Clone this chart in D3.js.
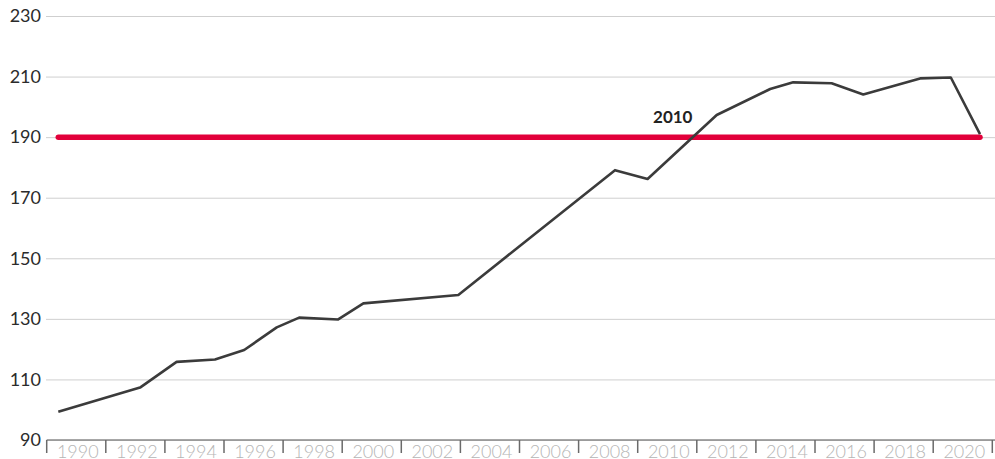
<!DOCTYPE html>
<html>
<head>
<meta charset="utf-8">
<script src="https://cdn.jsdelivr.net/npm/d3@7"></script>
<style>
  body { margin: 0; background: #fff; }
  svg { display: block; }
</style>
</head>
<body>
<svg id="chart" width="995" height="459"></svg>
<script>
// data (decimal years where the kinks fall between years)
var years = [1990, 1992.66, 1993.85, 1995.1, 1996.05, 1997.11, 1997.84, 1999.11, 1999.93,
  2003.02, 2008.12, 2009.18, 2011.43, 2013.17, 2013.92, 2015.17, 2016.2, 2018.05, 2019.05, 2020];
var values = [99.3, 107.3, 115.8, 116.6, 119.7, 127.2, 130.4, 129.8, 135.1,
  137.9, 179.1, 176.2, 197.3, 205.9, 208.1, 207.8, 204.1, 209.4, 209.7, 191.0];
var xLabels = ['1990', '1992', '1994', '1996', '1998', '2000', '2002', '2004',
  '2006', '2008', '2010', '2012', '2014', '2016', '2018', '2020'];
var yTicks = [90, 110, 130, 150, 170, 190, 210, 230];
var refYear = 2010;
var refValue = 190;

var FONT = 'Lato, "Open Sans", sans-serif';
var svg = d3.select('#chart').attr('font-family', FONT);
var W = 995;

var x = d3.scaleLinear().domain([1990, 2020]).range([58.3, 980]);
var y = d3.scaleLinear().domain([90, 230]).range([440, 16]);
var band = d3.scaleBand().domain(xLabels).range([46.7, 992.3]).padding(0);

// grid + y labels
var gy = svg.append('g')
  .attr('transform', 'translate(46,0)')
  .call(d3.axisLeft(y).tickValues(yTicks).tickSize(-(W - 46)).tickPadding(5))
  .attr('font-family', FONT)
  .attr('font-size', 18);
gy.select('.domain').remove();
gy.selectAll('.tick line').attr('stroke', '#cfcfcf').attr('stroke-width', 1);
gy.selectAll('.tick text').attr('fill', '#2b2b2b');

// x axis: line, boundary ticks, labels centred in each 2-year band
var gx = svg.append('g')
  .attr('transform', 'translate(0,440)')
  .call(d3.axisBottom(band).tickSize(0).tickPadding(5))
  .attr('font-family', FONT)
  .attr('font-size', 18);
gx.select('.domain').remove();
gx.selectAll('.tick text')
  .attr('fill', '#b5b5b5')
  .attr('x', 1.5)
  .style('font-weight', '300');

gx.append('line')
  .attr('x1', band.range()[0]).attr('x2', W)
  .attr('stroke', '#8a8a8a').attr('stroke-width', 1.5);

var edges = xLabels.map(function(d) { return band(d); }).concat([band.range()[1]]);
gx.selectAll('.edge').data(edges).enter().append('line')
  .attr('class', 'edge')
  .attr('x1', function(d) { return d; })
  .attr('x2', function(d) { return d; })
  .attr('y1', 0).attr('y2', 13)
  .attr('stroke', '#6a6a6a').attr('stroke-width', 1.5);

// reference line at 190
svg.append('line')
  .attr('x1', x(1990)).attr('x2', x(2020))
  .attr('y1', y(refValue)).attr('y2', y(refValue))
  .attr('stroke', '#e2003a').attr('stroke-width', 5.5)
  .attr('stroke-linecap', 'round');

svg.append('text')
  .attr('x', x(refYear)).attr('y', y(refValue) - 14)
  .attr('text-anchor', 'middle')
  .attr('fill', '#222')
  .style('font-size', '17px')
  .style('font-weight', 'bold')
  .text(String(refYear));

// data line
var pts = years.map(function(d, i) { return [d, values[i]]; });
var line = d3.line()
  .x(function(d) { return x(d[0]); })
  .y(function(d) { return y(d[1]); });

svg.append('path')
  .datum(pts)
  .attr('d', line)
  .attr('fill', 'none')
  .attr('stroke', '#3b3b3b')
  .attr('stroke-width', 2.6)
  .attr('stroke-linejoin', 'round');
</script>
</body>
</html>
